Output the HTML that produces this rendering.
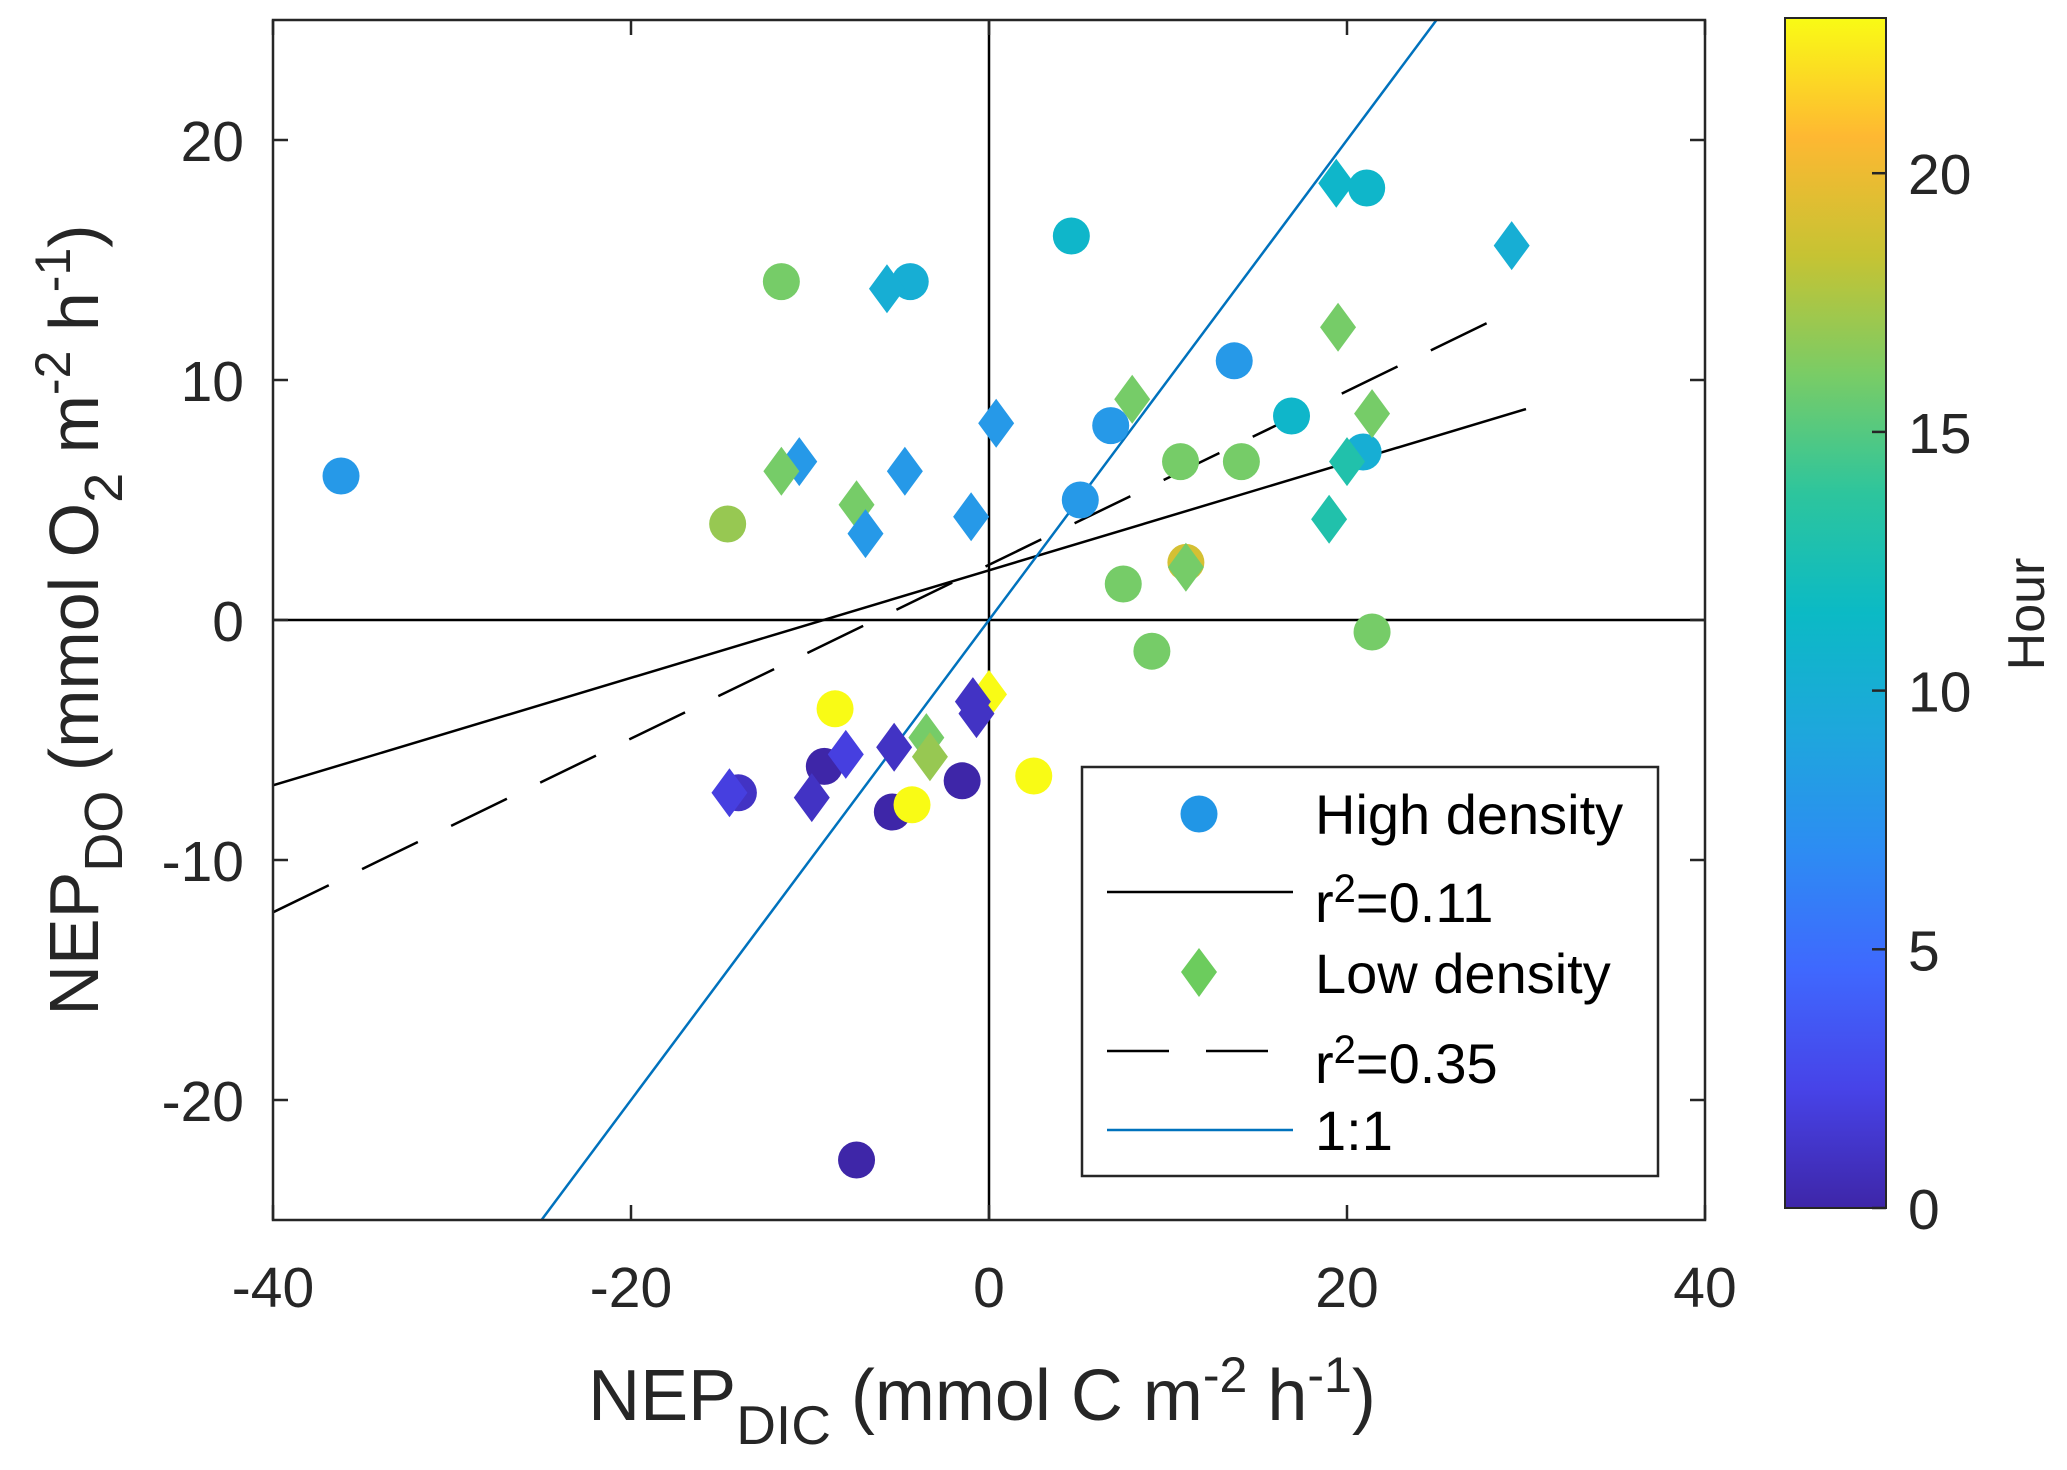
<!DOCTYPE html>
<html><head><meta charset="utf-8"><style>
html,body{margin:0;padding:0;background:#fff;}
svg{display:block;font-family:"Liberation Sans",Arial,sans-serif;}
</style></head><body>
<svg id="chart" width="2067" height="1470" viewBox="0 0 2067 1470" xmlns="http://www.w3.org/2000/svg">
<defs>
<linearGradient id="parula" x1="0" y1="1" x2="0" y2="0">
<stop offset="0" stop-color="#3e26a8"/><stop offset="0.1" stop-color="#4743e8"/><stop offset="0.2" stop-color="#3f68fe"/>
<stop offset="0.3" stop-color="#2d8cf3"/><stop offset="0.4" stop-color="#1ea7dc"/><stop offset="0.5" stop-color="#0bbac5"/>
<stop offset="0.6" stop-color="#2dc59d"/><stop offset="0.7" stop-color="#79cc66"/><stop offset="0.8" stop-color="#c6c333"/>
<stop offset="0.9" stop-color="#feb832"/><stop offset="1" stop-color="#f9fb15"/>
</linearGradient>
<clipPath id="plotclip"><rect x="273" y="20" width="1432" height="1200"/></clipPath>
</defs>
<g id="plot"></g>
<g id="axes"></g>
<g id="legend">
<rect x="1082" y="767" width="576" height="409" fill="#fff" stroke="#262626" stroke-width="2.5"/>
<ellipse cx="1199" cy="814" rx="18.5" ry="18.5" fill="#2196e6"/>
<text x="1315" y="834" font-size="56" fill="#000">High density</text>
<line x1="1107" y1="892" x2="1293" y2="892" stroke="#000" stroke-width="2.5"/>
<text x="1315" y="922" font-size="56" fill="#000">r<tspan dy="-20" font-size="40">2</tspan><tspan dy="20">=0.11</tspan></text>
<polygon points="1199,948 1217,972 1199,997 1181,972" fill="#6ccc5d"/>
<text x="1315" y="993" font-size="56" fill="#000">Low density</text>
<line x1="1107" y1="1051" x2="1269" y2="1051" stroke="#000" stroke-width="2.5" stroke-dasharray="62,37"/>
<text x="1315" y="1083" font-size="56" fill="#000">r<tspan dy="-20" font-size="40">2</tspan><tspan dy="20">=0.35</tspan></text>
<line x1="1107" y1="1130" x2="1293" y2="1130" stroke="#0072bd" stroke-width="2.5"/>
<text x="1315" y="1150" font-size="56" fill="#000">1:1</text>
</g>
<g id="cbar">
<rect x="1785" y="18" width="101" height="1190" fill="url(#parula)" stroke="#262626" stroke-width="2"/>
<text transform="translate(2044,614) rotate(-90)" text-anchor="middle" font-size="52" fill="#262626">Hour</text>
</g>
<text x="982" y="1420" text-anchor="middle" font-size="72" fill="#262626">NEP<tspan dy="24" font-size="55">DIC</tspan><tspan dy="-24"> (mmol C m</tspan><tspan dy="-28" font-size="50">-2</tspan><tspan dy="28"> h</tspan><tspan dy="-28" font-size="50">-1</tspan><tspan dy="28">)</tspan></text>
<text transform="translate(98,620) rotate(-90)" text-anchor="middle" font-size="70" fill="#262626">NEP<tspan dy="24" font-size="54">DO</tspan><tspan dy="-24"> (mmol O</tspan><tspan dy="24" font-size="54">2</tspan><tspan dy="-24"> m</tspan><tspan dy="-28" font-size="50">-2</tspan><tspan dy="28"> h</tspan><tspan dy="-28" font-size="50">-1</tspan><tspan dy="28">)</tspan></text>
</svg>
<script>
const xTicks = [-40, -20, 0, 20, 40];
const yTicks = [-20, -10, 0, 10, 20];
const cTicks = [0, 5, 10, 15, 20];
const highX = [-36.2, -11.6, -4.4, 4.6, 21.1, 13.7, 6.8, 16.9, 20.9, 5.1, 10.7, 14.1, -14.6, 7.5, 11.0, 9.1, 21.4, -8.6, -14.0, -9.2, -5.4, -4.3, -1.5, 2.5, -7.4];
const highY = [6.0, 14.1, 14.1, 16.0, 18.0, 10.8, 8.1, 8.5, 7.0, 5.0, 6.6, 6.6, 4.0, 1.5, 2.4, -1.3, -0.5, -3.7, -7.2, -6.1, -8.0, -7.7, -6.7, -6.5, -22.5];
const highHour = [8, 16, 10, 11, 11, 8, 8, 11, 10, 8, 16, 16, 17, 16, 19, 16, 16, 23, 1, 0, 0, 23, 0, 23, 0];
const lowX = [-5.7, 19.4, 29.2, 19.5, 8.0, 21.4, 0.4, -10.6, -11.6, -4.7, -7.4, -6.9, -1.0, 20.0, 19.0, 11.0, 0.0, -0.9, -0.7, -3.5, -3.3, -5.3, -8.0, -9.9, -14.5];
const lowY = [13.8, 18.2, 15.6, 12.2, 9.2, 8.6, 8.2, 6.6, 6.2, 6.2, 4.8, 3.6, 4.3, 6.6, 4.2, 2.2, -3.1, -3.4, -3.9, -4.9, -5.7, -5.3, -5.6, -7.4, -7.2];
const lowHour = [10, 11, 10, 16, 16, 16, 8, 8, 16, 8, 16, 8, 8, 13, 13, 16, 23, 1, 1, 16, 17, 1, 2, 1, 2];
const fitHigh = [0.224, 2.07];   // slope, intercept
const fitLow = [0.362, 2.3];
const fitHighRange = [-40, 30];
const fitLowRange = [-40, 28.5];
const oneToOneRange = [-25, 25];

const NS = "http://www.w3.org/2000/svg";
const X0 = 273, X1 = 1705, Y0 = 1220, Y1 = 20;
const sx = v => X0 + (v + 40) / 80 * (X1 - X0);
const sy = v => Y0 - (v + 25) / 50 * (Y0 - Y1);
const CB0 = 1208, CB1 = 18, CMAX = 23;
const sc = v => CB0 - v / CMAX * (CB0 - CB1);
const stops = [[0x3e,0x26,0xa8],[0x47,0x43,0xe8],[0x3f,0x68,0xfe],[0x2d,0x8c,0xf3],[0x1e,0xa7,0xdc],[0x0b,0xba,0xc5],[0x2d,0xc5,0x9d],[0x79,0xcc,0x66],[0xc6,0xc3,0x33],[0xfe,0xb8,0x32],[0xf9,0xfb,0x15]];
function parula(h){let t=Math.max(0,Math.min(1,h/CMAX))*10;let i=Math.min(9,Math.floor(t));let f=t-i;const a=stops[i],b=stops[i+1];return "rgb("+a.map((c,k)=>Math.round(c+(b[k]-c)*f)).join(",")+")";}
function mk(tag, attrs, parent){const e=document.createElementNS(NS,tag);for(const k in attrs)e.setAttribute(k,attrs[k]);parent.appendChild(e);return e;}

const plot = document.getElementById('plot');
const axes = document.getElementById('axes');
const clipG = mk('g', {'clip-path':'url(#plotclip)'}, plot);


let l = mk('line', {x1:X0,y1:sy(0),x2:X1,y2:sy(0),stroke:'#000','stroke-width':2.5}, clipG);


l = mk('line', {x1:sx(0),y1:Y0,x2:sx(0),y2:Y1,stroke:'#000','stroke-width':2.5}, clipG);


l = mk('line', {x1:sx(fitHighRange[0]),y1:sy(fitHigh[0]*fitHighRange[0]+fitHigh[1]),x2:sx(fitHighRange[1]),y2:sy(fitHigh[0]*fitHighRange[1]+fitHigh[1]),stroke:'#000','stroke-width':2.5}, clipG);


l = mk('line', {x1:sx(fitLowRange[0]),y1:sy(fitLow[0]*fitLowRange[0]+fitLow[1]),x2:sx(fitLowRange[1]),y2:sy(fitLow[0]*fitLowRange[1]+fitLow[1]),stroke:'#000','stroke-width':2.5,'stroke-dasharray':'62,37'}, clipG);


l = mk('line', {x1:sx(oneToOneRange[0]),y1:sy(oneToOneRange[0]),x2:sx(oneToOneRange[1]),y2:sy(oneToOneRange[1]),stroke:'#0072bd','stroke-width':2.5}, clipG);



for (let i = 0; i < highX.length; i++) {
  const c = mk('ellipse', {cx:sx(highX[i]),cy:sy(highY[i]),rx:18.5,ry:18.5,fill:parula(highHour[i])}, plot);
  
  
}
for (let i = 0; i < lowX.length; i++) {
  const x = sx(lowX[i]), y = sy(lowY[i]);
  const p = mk('polygon', {points:`${x},${y-24.5} ${x+18},${y} ${x},${y+24.5} ${x-18},${y}`,fill:parula(lowHour[i])}, plot);
  
  
}

const frame = mk('rect', {x:X0,y:Y1,width:X1-X0,height:Y0-Y1,fill:'none',stroke:'#262626','stroke-width':2.5}, axes);


xTicks.forEach(v => {
  const x = sx(v);
  mk('line', {x1:x,y1:Y0,x2:x,y2:Y0-15,stroke:'#262626','stroke-width':2.5}, axes);
  mk('line', {x1:x,y1:Y1,x2:x,y2:Y1+15,stroke:'#262626','stroke-width':2.5}, axes);
  const t = mk('text', {x:x,y:1307,'text-anchor':'middle','font-size':57,fill:'#262626'}, axes);
  
  
  t.textContent = v;
});
yTicks.forEach(v => {
  const y = sy(v);
  mk('line', {x1:X0,y1:y,x2:X0+15,y2:y,stroke:'#262626','stroke-width':2.5}, axes);
  mk('line', {x1:X1,y1:y,x2:X1-15,y2:y,stroke:'#262626','stroke-width':2.5}, axes);
  const t = mk('text', {x:244,y:y+21,'text-anchor':'end','font-size':57,fill:'#262626'}, axes);
  
  
  t.textContent = v;
});
const cbar = document.getElementById('cbar');
cTicks.forEach(v => {
  const y = sc(v);
  mk('line', {x1:1886,y1:y,x2:1872,y2:y,stroke:'#262626','stroke-width':2.5}, cbar);
  const t = mk('text', {x:1908,y:y+21,'font-size':57,fill:'#262626'}, cbar);
  
  
  t.textContent = v;
});
</script>
</body></html>
